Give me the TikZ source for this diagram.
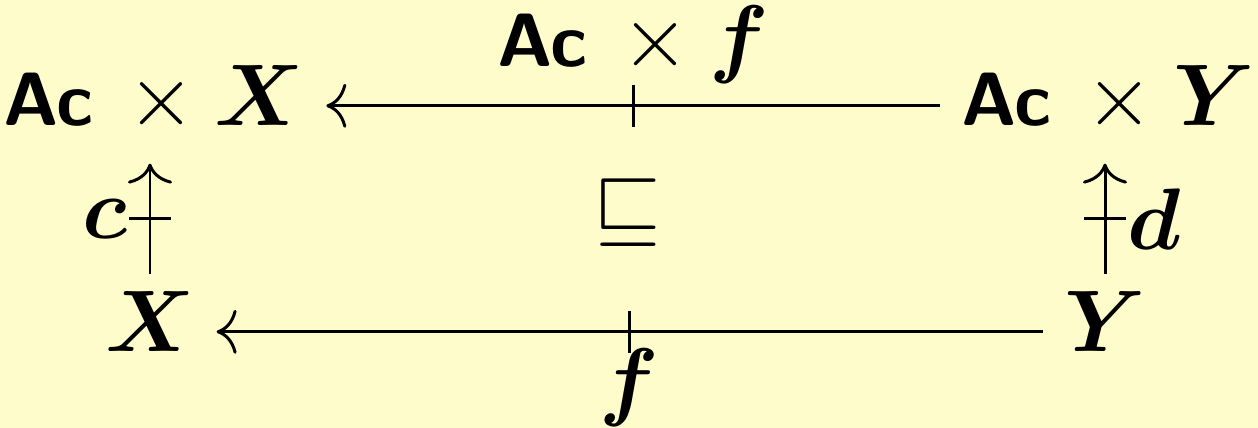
\documentclass[tikz,border=0pt]{standalone}
\usepackage{amsmath,amssymb}
\usepackage{bm}
\usepackage{xcolor}
\usetikzlibrary{arrows.meta}
\definecolor{paper}{HTML}{FFFCCC}
\newcommand{\Ac}{\textsf{\fontsize{21.5}{26}\selectfont\bfseries Ac}}

\begin{document}
\begin{tikzpicture}[
  obj/.style={anchor=base,inner sep=6pt,text height=16pt,text depth=4.5pt,font=\fontsize{23}{27}\selectfont},
  lbl/.style={inner sep=6pt,font=\fontsize{23}{27}\selectfont},
  arr/.style={-{Computer Modern Rightarrow[length=2mm,width=4.4mm]},line width=0.85pt},
  bar/.style={midway,sloped,fill=black,inner sep=0pt,minimum width=0.85pt,minimum height=4.2mm}]
\useasboundingbox (0,0) rectangle (12.58,4.28);
\fill[paper] (0,0) rectangle (12.58,4.28);
% corners of the square
\node[obj] (tl) at (1.54,3.02) {$\Ac\mkern3mu\times\bm{X}$};
\node[obj] (tr) at (11.08,3.02) {$\Ac\mkern3mu\times\bm{Y}$};
\node[obj] (bl) at (1.50,0.76) {$\bm{X}$};
\node[obj] (br) at (11.05,0.76) {$\bm{Y}$};
\node[lbl] (sq) at (6.28,2.15) {$\sqsubseteq$};
% barred arrows
\draw[arr] (tr) -- node[bar]{} node[lbl,above,inner sep=5.8pt]{$\Ac\mkern3mu\times\bm{f}$} (tl);
\draw[arr] (br) -- node[bar]{} node[lbl,below,inner sep=4.5pt]{$\bm{f}$} (bl);
\draw[arr] (bl) -- node[bar]{} node[lbl,left]{$\bm{c}$} (bl |- tl.south);
\draw[arr] (br) -- node[bar]{} node[lbl,right]{$\bm{d}$} (br |- tr.south);
\end{tikzpicture}
\end{document}
